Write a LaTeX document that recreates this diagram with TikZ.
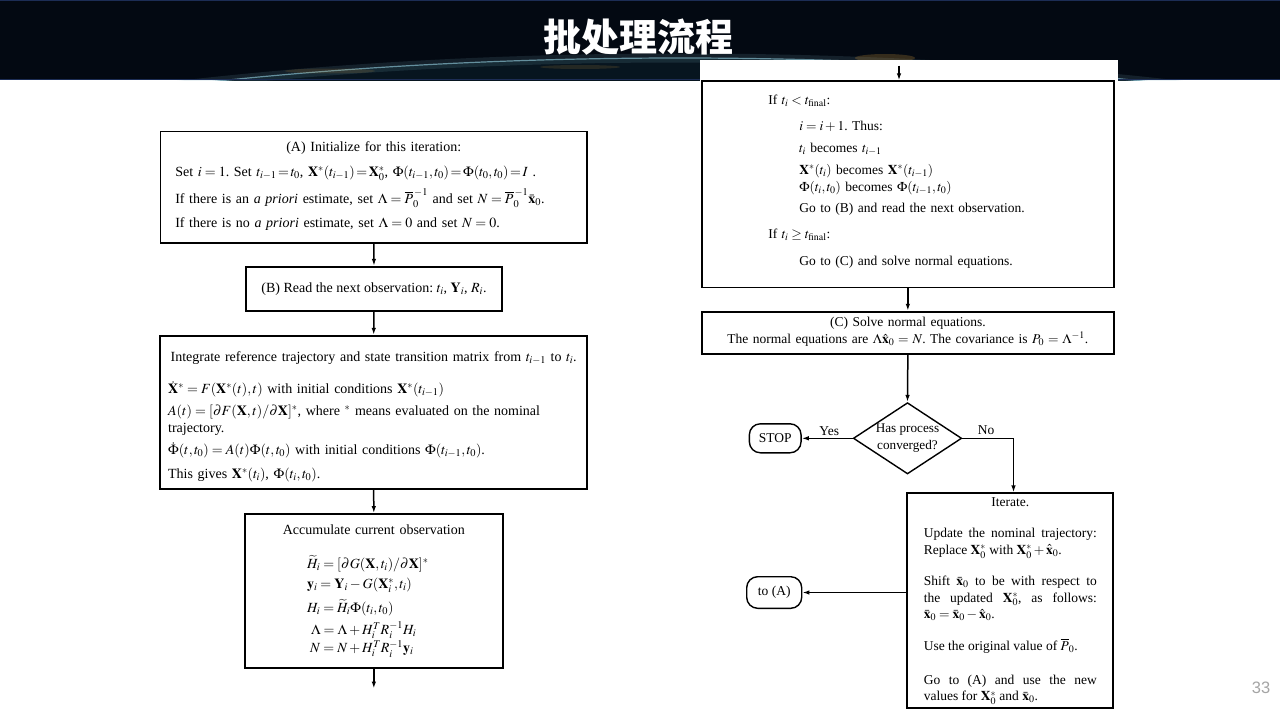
\documentclass[tikz,border=0pt]{standalone}
\usepackage{amsmath}
\usepackage{amsfonts}
\usepackage{mathptmx}
\usepackage{fontspec}
\setmainfont{Liberation Serif}
\newfontfamily\cjk{Noto Sans CJK SC}
\newfontfamily\numfont{Liberation Sans}
\usepackage{tikz}
\usetikzlibrary{shapes.geometric,arrows.meta}
\definecolor{bannerbg}{RGB}{3,9,18}
\definecolor{earth}{RGB}{7,21,31}
\definecolor{glow}{RGB}{120,170,185}
\definecolor{bannerline}{RGB}{28,45,85}
\definecolor{citylight}{RGB}{205,150,60}
\definecolor{pagegray}{RGB}{165,165,165}
\newcommand{\indt}{\hspace*{31pt}}
\frenchspacing
\tikzset{
  font={\fontsize{14pt}{17pt}\selectfont}}
\tikzset{
  box/.style={draw=black, line width=1.8pt, align=left},
  rfont/.style={font={\fontsize{13.5pt}{16.7pt}\selectfont}},
  fb/.style={text height=0pt, text depth=#1},
  term/.style={draw=black, line width=1.4pt, rounded corners=11pt, rfont},
  decision/.style={diamond, draw=black, line width=1.4pt, inner sep=-5pt,
    aspect=1.52, align=center, font={\fontsize{13.2pt}{16.5pt}\selectfont}},
  flow/.style={line width=1.5pt, -{Latex[length=7pt,width=4.5pt]}},
  title/.style={text=white, font={\cjk\bfseries\fontsize{38pt}{40pt}\selectfont}},
  pgnum/.style={text=pagegray, font={\numfont\fontsize{16.5pt}{18pt}\selectfont}}}

\begin{document}
\begin{tikzpicture}[x=1pt,y=1pt]
\tikzstyle{every node}+=[inner sep=0pt]
\useasboundingbox (0,0) rectangle (1280,-720);
\fill [white] (0,0) rectangle (1280,-720);
% banner
\fill [bannerbg] (0,0) rectangle (1280,-80);
\begin{scope}
\clip (0,0) rectangle (1280,-80);
\fill [earth] (680,-358) ellipse (1200 and 300);
\draw [glow, line width=9pt, opacity=0.15] (680,-358) ellipse (1200 and 300);
\draw [glow, line width=1.2pt, opacity=0.8] (680,-358) ellipse (1200 and 300);
\fill [citylight, opacity=0.15] (330,-71) ellipse (45 and 2.5);
\fill [citylight, opacity=0.15] (580,-67) ellipse (40 and 2);
\fill [citylight, opacity=0.25] (885,-58) ellipse (30 and 4);
\end{scope}
\draw [bannerline, line width=1.5pt] (0,-0.5) -- (1280,-0.5);
\draw [bannerline, line width=1.5pt] (0,-79.5) -- (1280,-79.5);
\fill [white] (699.6,-60) rectangle (1118.4,-81);
\node [title] (head) at (638.5,-37) {批处理流程};
\node [pgnum] (pnum) at (1261,-688) {33};
% left column
\node [box, fb=71.1pt, text width=397pt, minimum width=426.5pt, minimum height=111.5pt] (init) at (373.75,-187.25)
 {\hfill (A) Initialize for this iteration:\hfill\null\\[8pt]
  \mbox{Set $i=1$. Set $t_{i-1}\!=\!t_0$, $\mathbf{X}^*(t_{i-1})\!=\!\mathbf{X}^*_0$, $\Phi(t_{i-1},t_0)\!=\!\Phi(t_0,t_0)\!=\!I$ .}\\[7pt]
  If there is an \emph{a priori} estimate, set $\Lambda=\overline{P}_0^{\,-1}$ and set $N=\overline{P}_0^{\,-1}\bar{\mathbf{x}}_0$.\\[6.6pt]
  If there is no \emph{a priori} estimate, set $\Lambda=0$ and set $N=0$.};
\node [box, minimum width=256.6pt, minimum height=44pt] (read) at (374,-288.7)
 {(B) Read the next observation: $t_i$, $\mathbf{Y}_i$, $R_i$.};
\node [box, fb=101.6pt, text width=411pt, minimum width=427.3pt, minimum height=153.6pt] (integ) at (373.65,-412.5)
 {\hfill\mbox{Integrate reference trajectory and state transition matrix from $t_{i-1}$ to $t_i$.}\hfill\null\\[14.5pt]
  $\dot{\mathbf{X}}^*=F(\mathbf{X}^*(t),t)$ with initial conditions $\mathbf{X}^*(t_{i-1})$\\[5pt]
  $A(t)=[\partial F(\mathbf{X},t)/\partial\mathbf{X}]^*$, where ${}^*$ means evaluated on the nominal\\
  trajectory.\\[5.5pt]
  $\dot{\Phi}(t,t_0)=A(t)\Phi(t,t_0)$ with initial conditions $\Phi(t_{i-1},t_0)$.\\[6.5pt]
  This gives $\mathbf{X}^*(t_i)$, $\Phi(t_i,t_0)$.};
\node [box, fb=113.7pt, text width=241.7pt, minimum width=257.7pt, minimum height=154.3pt] (accum) at (373.85,-591.15)
 {\hfill Accumulate current observation\hfill\null\\[17pt]
  \hspace*{54pt}$\widetilde{H}_i=[\partial G(\mathbf{X},t_i)/\partial\mathbf{X}]^*$\\[3pt]
  \hspace*{54pt}$\mathbf{y}_i=\mathbf{Y}_i-G(\mathbf{X}^*_i,t_i)$\\[5.7pt]
  \hspace*{54pt}$H_i=\widetilde{H}_i\Phi(t_i,t_0)$\\[5.3pt]
  \hspace*{58pt}$\Lambda=\Lambda+H_i^TR_i^{-1}H_i$\\[1.4pt]
  \hspace*{57pt}$N=N+H_i^TR_i^{-1}\mathbf{y}_i$};
\coordinate (outL) at (373.85,-688.5);
% right column
\coordinate (inR) at (899,-65.7);
\node [box, rfont, fb=160.8pt, text width=279.1pt, minimum width=412.3pt, minimum height=206.2pt] (cond) at (907.85,-184.4)
 {If $t_i<t_{\mathrm{final}}$:\\[10pt]
  \indt$i=i+1$. Thus:\\[4.6pt]
  \indt$t_i$ becomes $t_{i-1}$\\[6pt]
  \indt$\mathbf{X}^*(t_i)$ becomes $\mathbf{X}^*(t_{i-1})$\\
  \indt$\Phi(t_i,t_0)$ becomes $\Phi(t_{i-1},t_0)$\\[4.3pt]
  \indt Go to (B) and read the next observation.\\[9pt]
  If $t_i\geq t_{\mathrm{final}}$:\\[11pt]
  \indt Go to (C) and solve normal equations.};
\node [box, rfont, align=center, fb=12.3pt, text width=400pt, minimum width=412.3pt, minimum height=42.3pt] (solve) at (907.85,-332.85)
 {(C) Solve normal equations.\\
  The normal equations are $\Lambda\hat{\mathbf{x}}_0=N$. The covariance is $P_0=\Lambda^{-1}$.};
\node [decision, minimum width=108.4pt, minimum height=71.3pt] (conv) at (907.5,-438.3) {Has process\\converged?};
\node [term, minimum width=51.7pt, minimum height=29pt] (stop) at (775.2,-438.3) {STOP};
\node [rfont] (yes) at (829.3,-431.5) {Yes};
\node [rfont] (no) at (986,-430.3) {No};
\coordinate (noturn) at (1013.5,-438.3);
\node [box, rfont, align=justify, fb=188.2pt, text width=173pt, minimum width=206pt, minimum height=215pt] (iter) at (1010.3,-600.8)
 {\hfill Iterate.\hfill\null\\[14pt]
  Update the nominal trajectory:\linebreak
  Replace $\mathbf{X}^*_0$ with $\mathbf{X}^*_0+\hat{\mathbf{x}}_0$.\\[14.5pt]
  Shift $\bar{\mathbf{x}}_0$ to be with respect to\linebreak
  the updated $\mathbf{X}^*_0$, as follows:\linebreak
  $\bar{\mathbf{x}}_0=\bar{\mathbf{x}}_0-\hat{\mathbf{x}}_0$.\\[14.8pt]
  Use the original value of $\overline{P}_0$.\\[17.3pt]
  Go to (A) and use the new\linebreak
  values for $\mathbf{X}^*_0$ and $\bar{\mathbf{x}}_0$.};
\node [term, minimum width=55pt, minimum height=31.6pt] (toA) at (774.2,-592.5) {to (A)};
% connectors
\draw [flow] (init.south) -- (read.north);
\draw [flow] (read.south) -- (integ.north);
\draw [flow] (integ.south) -- (accum.north);
\draw [flow] (accum.south) -- (outL);
\draw [flow] (inR) -- (inR |- cond.north);
\draw [flow] (cond.south) -- (solve.north);
\draw [flow] (solve.south) -- (conv.north);
\draw [flow] (conv.west) -- (stop.east);
\draw [flow] (conv.east) -- (noturn) -- (noturn |- iter.north);
\draw [flow] (toA.east -| iter.west) -- (toA.east);
\end{tikzpicture}
\end{document}
